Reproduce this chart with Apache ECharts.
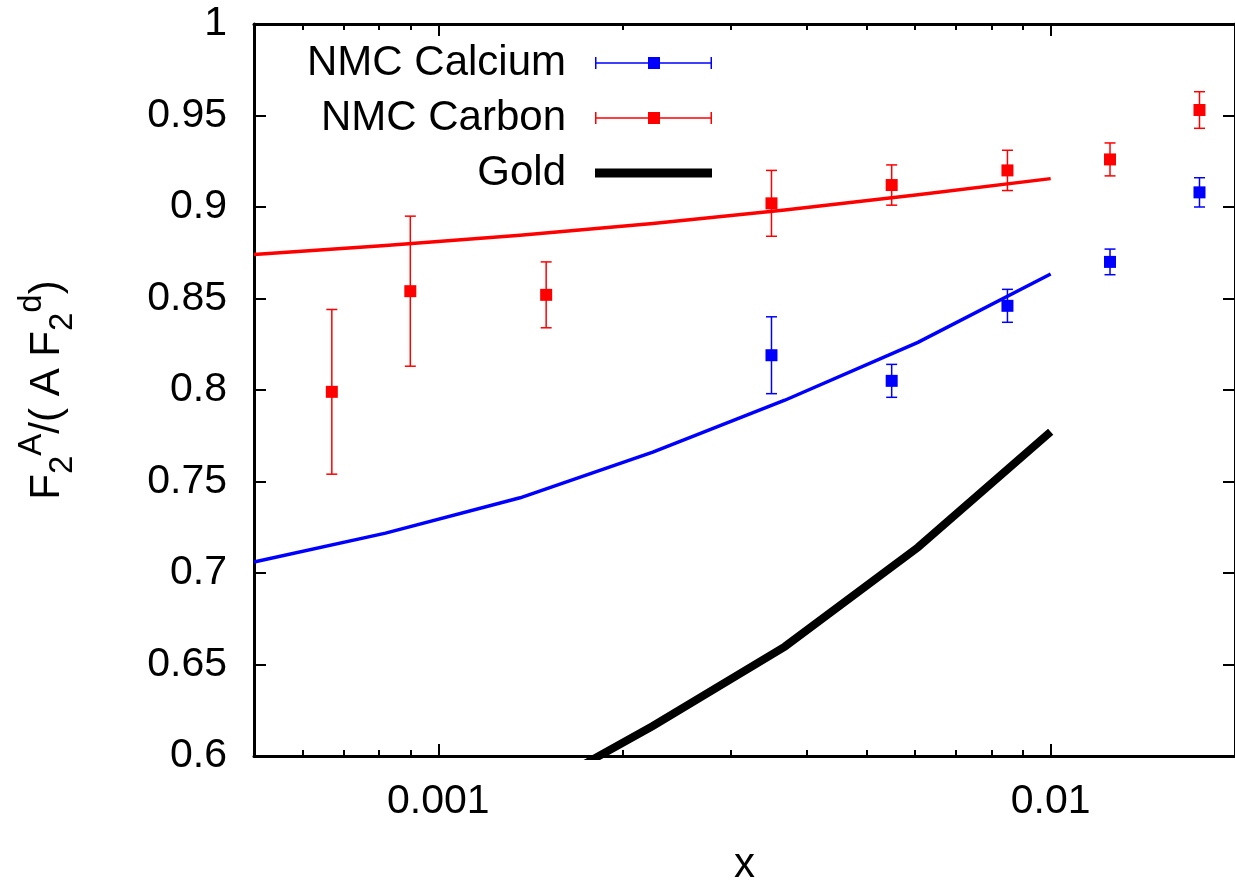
<!DOCTYPE html>
<html>
<head>
<meta charset="utf-8">
<script src="https://cdn.jsdelivr.net/npm/echarts@6/dist/echarts.min.js"></script>
<style>
html,body{margin:0;padding:0;background:#ffffff;}
#c{width:1235px;height:891px;}
</style>
</head>
<body>
<div id="c"></div>
<script>
// ---- data ----
const carbonX   = [0.00067, 0.0009, 0.0015, 0.0035, 0.0055, 0.0085, 0.0125, 0.0175];
const carbonY   = [0.799, 0.854, 0.852, 0.902, 0.912, 0.920, 0.926, 0.953];
const carbonErr = [0.045, 0.041, 0.018, 0.018, 0.011, 0.011, 0.009, 0.010];

const calciumX   = [0.0035, 0.0055, 0.0085, 0.0125, 0.0175];
const calciumY   = [0.819, 0.805, 0.846, 0.870, 0.908];
const calciumErr = [0.021, 0.009, 0.009, 0.007, 0.008];

const curveX       = [0.0005, 0.00082, 0.00136, 0.00224, 0.00368, 0.00607, 0.01];
const carbonCurve  = [0.874, 0.879, 0.8845, 0.891, 0.8983, 0.9067, 0.9155];
const calciumCurve = [0.706, 0.7218, 0.7411, 0.766, 0.7944, 0.826, 0.8634];

const goldX     = [0.00136, 0.00224, 0.00368, 0.00607, 0.01];
const goldCurve = [0.576, 0.6164, 0.6598, 0.714, 0.7772];

const xTickValues  = [0.001, 0.01];
const xMinorTicks  = [0.0006, 0.0007, 0.0008, 0.0009, 0.002, 0.003, 0.004, 0.005, 0.006, 0.007, 0.008, 0.009];
const xMin = 0.0005, xMax = 0.02;
const yMin = 0.6, yMax = 1, yStep = 0.05;

const seriesNames = ['NMC Calcium', 'NMC Carbon', 'Gold'];

// ---- helpers ----
const FONT = '"Liberation Sans", Arial, Helvetica, sans-serif';
const BLUE = '#0000ff', RED = '#ff0000', BLACK = '#000000';
const pairs = (xs, ys) => xs.map((x, i) => [x, ys[i]]);
const errRows = (xs, ys, es) => xs.map((x, i) => [x, ys[i] - es[i], ys[i] + es[i]]);

function errorBarSeries(name, xs, ys, es, color) {
  return {
    type: 'custom', name: name, xAxisIndex: 0, yAxisIndex: 0,
    data: errRows(xs, ys, es), encode: { x: 0, y: [1, 2] },
    renderItem: function (params, api) {
      const x = api.value(0);
      const lo = api.coord([x, api.value(1)]);
      const hi = api.coord([x, api.value(2)]);
      const c = 5.5;
      const st = { stroke: color, lineWidth: 1.5, fill: null };
      return { type: 'group', children: [
        { type: 'line', shape: { x1: lo[0], y1: lo[1], x2: hi[0], y2: hi[1] }, style: st },
        { type: 'line', shape: { x1: lo[0] - c, y1: lo[1], x2: lo[0] + c, y2: lo[1] }, style: st },
        { type: 'line', shape: { x1: hi[0] - c, y1: hi[1], x2: hi[0] + c, y2: hi[1] }, style: st }
      ]};
    }
  };
}
function pointSeries(name, xs, ys, color) {
  return {
    type: 'scatter', name: name, xAxisIndex: 0, yAxisIndex: 0,
    symbol: 'rect', symbolSize: 12, itemStyle: { color: color, opacity: 1 },
    data: pairs(xs, ys)
  };
}
function curveSeries(name, xs, ys, color, width) {
  return {
    type: 'line', name: name, xAxisIndex: 0, yAxisIndex: 0,
    showSymbol: false, symbol: 'none', smooth: false, clip: true,
    lineStyle: { color: color, width: width, cap: 'butt', join: 'miter' },
    itemStyle: { color: color },
    data: pairs(xs, ys)
  };
}

const ERR_ICON = 'path://M0,5.25H117V6.75H0Z M0,0H1.5V12H0Z M115.5,0H117V12H115.5Z M53,0H65V12H53Z';
const GOLD_ICON = 'path://M0,0H117V9H0Z';

const log10 = Math.log10;
const isMajor = v => xTickValues.some(t => Math.abs(log10(v / t)) < 1e-6);

const axisLineStyle = { color: BLACK, width: 3 };
const tickLineStyle = { color: BLACK, width: 2 };

const option = {
  animation: false,
  backgroundColor: '#ffffff',
  grid: { left: 254, top: 24, width: 990, height: 738, containLabel: false },
  legend: {
    orient: 'vertical', right: 523, top: 35.5, padding: 0, itemGap: 0, align: 'right',
    itemWidth: 117, itemHeight: 12, symbolKeepAspect: true, selectedMode: false,
    textStyle: { fontSize: 42, fontFamily: FONT, color: BLACK, lineHeight: 55, padding: [0, 24, 0, 0] },
    itemStyle: { borderWidth: 0 },
    data: [
      { name: seriesNames[0], icon: ERR_ICON, itemStyle: { color: BLUE } },
      { name: seriesNames[1], icon: ERR_ICON, itemStyle: { color: RED } },
      { name: seriesNames[2], icon: GOLD_ICON, itemStyle: { color: BLACK } }
    ]
  },
  xAxis: [
    { // main log axis (bottom) with labels + major ticks
      type: 'log', logBase: 10, min: xMin, max: xMax, position: 'bottom',
      name: 'x', nameLocation: 'middle', nameGap: 88,
      nameTextStyle: { fontSize: 42, fontFamily: FONT, color: BLACK },
      axisLine: { show: true, onZero: false, lineStyle: axisLineStyle },
      axisTick: { show: true, inside: true, length: 12, lineStyle: tickLineStyle },
      axisLabel: { show: true, margin: 25, fontSize: 41, fontFamily: FONT, color: BLACK,
        showMinLabel: false, showMaxLabel: false,
        formatter: v => isMajor(v) ? String(+(+v).toPrecision(6)) : '' },
      splitLine: { show: false }, minorTick: { show: false }
    },
    { // minor ticks bottom
      type: 'value', min: log10(xMin), max: log10(xMax), position: 'bottom',
      axisLine: { show: false }, axisLabel: { show: false }, splitLine: { show: false },
      axisTick: { show: true, inside: true, length: 6, lineStyle: tickLineStyle,
        customValues: xMinorTicks.map(log10) }
    },
    { // top mirror log axis
      type: 'log', logBase: 10, min: xMin, max: xMax, position: 'top',
      axisLine: { show: true, onZero: false, lineStyle: axisLineStyle },
      axisTick: { show: true, inside: true, length: 12, lineStyle: tickLineStyle },
      axisLabel: { show: false }, splitLine: { show: false }
    },
    { // minor ticks top
      type: 'value', min: log10(xMin), max: log10(xMax), position: 'top',
      axisLine: { show: false }, axisLabel: { show: false }, splitLine: { show: false },
      axisTick: { show: true, inside: true, length: 6, lineStyle: tickLineStyle,
        customValues: xMinorTicks.map(log10) }
    }
  ],
  yAxis: [
    {
      type: 'value', min: yMin, max: yMax, interval: yStep, position: 'left',
      name: '{m|F}{sub|2}{sup|A}{m|/( A F}{sub|2}{sup|d}{m|)}',
      nameLocation: 'middle', nameGap: 175, nameRotate: 90,
      nameTextStyle: {
        fontFamily: FONT, color: BLACK,
        rich: {
          m:   { fontSize: 42, fontFamily: FONT, color: BLACK, lineHeight: 64 },
          sub: { fontSize: 33, fontFamily: FONT, color: BLACK, lineHeight: 30, verticalAlign: 'bottom' },
          sup: { fontSize: 33, fontFamily: FONT, color: BLACK, lineHeight: 30, verticalAlign: 'top' }
        }
      },
      axisLine: { show: true, onZero: false, lineStyle: axisLineStyle },
      axisTick: { show: true, inside: true, length: 12, lineStyle: tickLineStyle },
      axisLabel: { show: true, margin: 27, fontSize: 41, fontFamily: FONT, color: BLACK },
      splitLine: { show: false }
    },
    {
      type: 'value', min: yMin, max: yMax, interval: yStep, position: 'right',
      axisLine: { show: true, onZero: false, lineStyle: axisLineStyle },
      axisTick: { show: true, inside: true, length: 12, lineStyle: tickLineStyle },
      axisLabel: { show: false }, splitLine: { show: false }
    }
  ],
  series: [
    errorBarSeries(seriesNames[0], calciumX, calciumY, calciumErr, BLUE),
    pointSeries(seriesNames[0], calciumX, calciumY, BLUE),
    errorBarSeries(seriesNames[1], carbonX, carbonY, carbonErr, RED),
    pointSeries(seriesNames[1], carbonX, carbonY, RED),
    curveSeries('Carbon curve', curveX, carbonCurve, RED, 3.5),
    curveSeries('Calcium curve', curveX, calciumCurve, BLUE, 3.5),
    curveSeries(seriesNames[2], goldX, goldCurve, BLACK, 8)
  ]
};

const chart = echarts.init(document.getElementById('c'), null, { renderer: 'canvas' });
chart.setOption(option);
</script>
</body>
</html>
